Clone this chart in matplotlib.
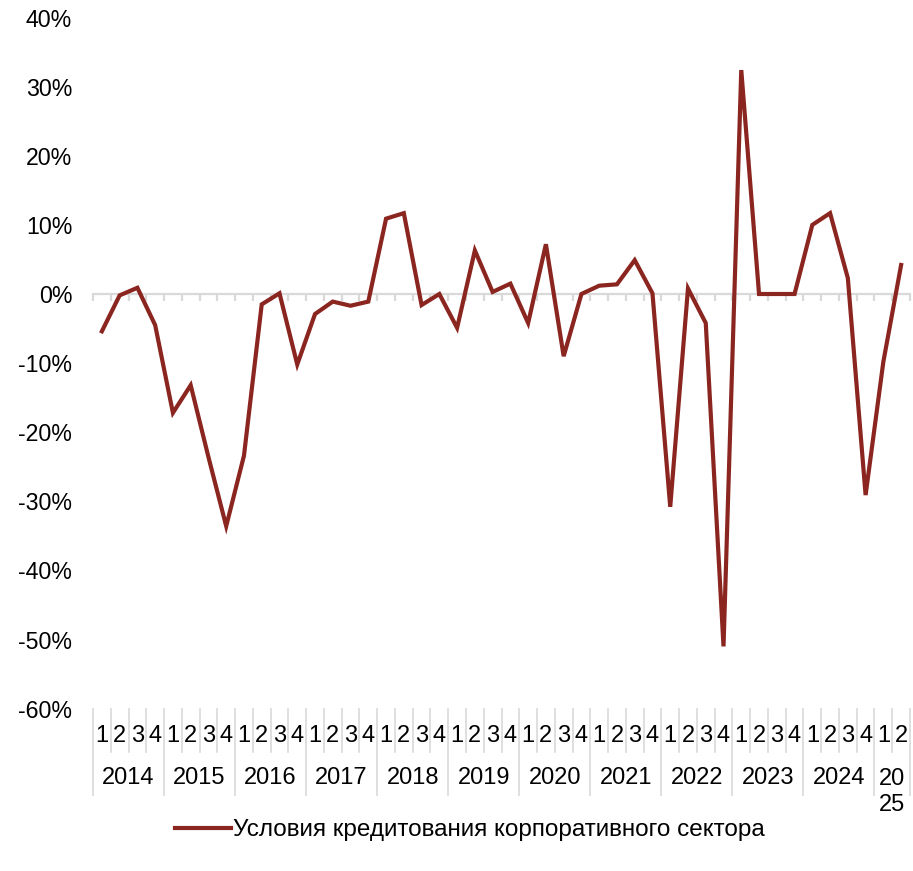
import matplotlib
matplotlib.use("Agg")
import matplotlib.pyplot as plt
from matplotlib.lines import Line2D

plt.rcParams['font.family'] = ['Liberation Sans', 'DejaVu Sans']

years = ["2014", "2015", "2016", "2017", "2018", "2019", "2020",
         "2021", "2022", "2023", "2024", "20\n25"]
quarters_per_year = [4, 4, 4, 4, 4, 4, 4, 4, 4, 4, 4, 2]
values = [-5.4, -0.2, 0.9, -4.5,
          -17.2, -13.2, -23.6, -33.6,
          -23.4, -1.5, 0.1, -10.2,
          -2.9, -1.1, -1.7, -1.1,
          10.9, 11.7, -1.6, 0.0,
          -4.9, 6.3, 0.3, 1.5,
          -4.2, 7.2, -9.0, 0.0,
          1.2, 1.4, 4.9, 0.1,
          -30.8, 0.8, -4.2, -51.0,
          32.4, 0.0, 0.0, 0.0,
          10.0, 11.7, 2.3, -29.1,
          -9.8, 4.2]
series_name = "Условия кредитования корпоративного сектора"
yticks = [40, 30, 20, 10, 0, -10, -20, -30, -40, -50, -60]

W, H = 913, 871
fig = plt.figure(figsize=(W / 100, H / 100), dpi=100)
left, right, top, bottom = 93, 910, 17.6, 708.6
ax = fig.add_axes([left / W, 1 - bottom / H, (right - left) / W, (bottom - top) / H])

n = len(values)
xs = [i + 0.5 for i in range(n)]
line_color = "#8B2520"
ax.plot(xs, values, color=line_color, lw=3.0, solid_joinstyle='miter', zorder=3,
        label=series_name)

ax.set_xlim(0, n)
ax.set_ylim(-60, 40)
for s in ["top", "right", "left"]:
    ax.spines[s].set_visible(False)
ax.spines["bottom"].set_position(("data", 0))
ax.spines["bottom"].set_color("#d9d9d9")
ax.spines["bottom"].set_linewidth(1.6)
ax.set_xticks(range(n + 1))
ax.set_xticklabels([])
ax.tick_params(axis="x", direction="out", length=5, width=1.6, color="#d9d9d9")
ax.set_yticks(yticks)
ax.set_yticklabels([f"{v}%" for v in yticks], fontsize=16.7)
ax.tick_params(axis="y", length=0, pad=15)

# multi-level category axis
ah = bottom - top
def ay(px):
    return -(px - bottom) / ah

sep_color = "#d9d9d9"
year_bounds = [0]
for q in quarters_per_year:
    year_bounds.append(year_bounds[-1] + q)
trans = ax.get_xaxis_transform()
for b in range(n + 1):
    yend = ay(795) if b in year_bounds else ay(752)
    ax.add_line(Line2D([b, b], [0, yend], transform=trans, color=sep_color,
                       lw=1.2, clip_on=False))
qi = 0
for yi, (yr, nq) in enumerate(zip(years, quarters_per_year)):
    for q in range(nq):
        ax.text(qi + q + 0.5, ay(736), str(q + 1), transform=trans,
                ha="center", va="center", fontsize=17)
    ax.text(qi + nq / 2, ay(778) if "\n" not in yr else ay(792), yr, transform=trans,
            ha="center", va="center", fontsize=17, linespacing=1.25)
    qi += nq

fig.legend(loc="center", bbox_to_anchor=(470 / W, 1 - 830 / H), frameon=False,
           fontsize=17.5, handlelength=2.3, handletextpad=0.1)

fig.savefig("out.png", dpi=100)
